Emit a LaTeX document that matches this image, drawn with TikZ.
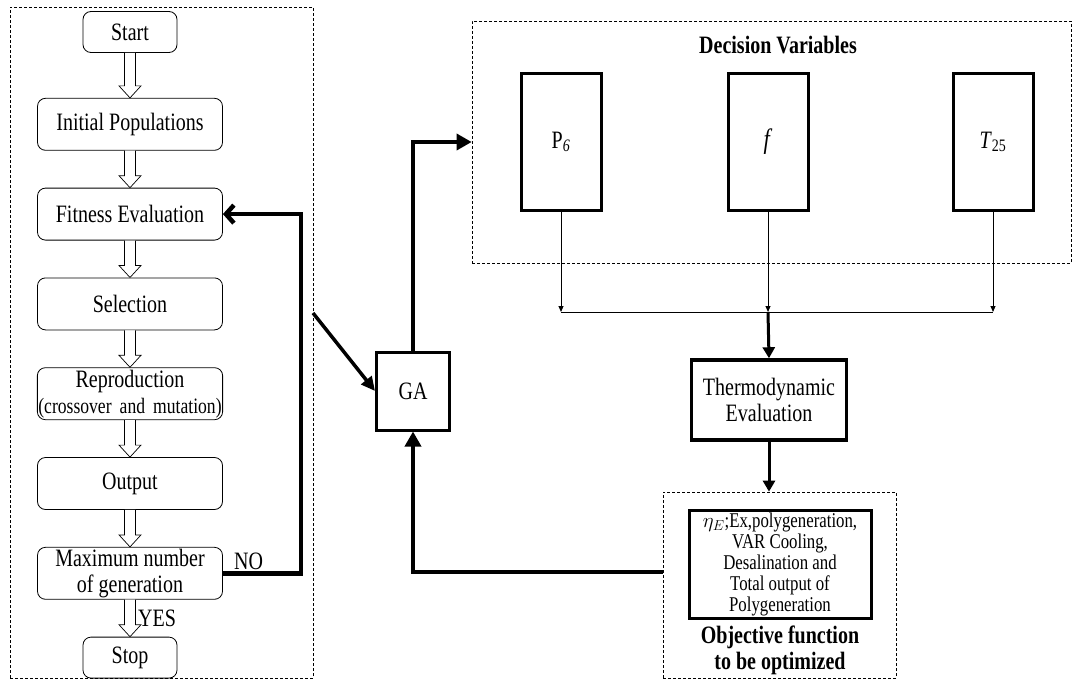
\documentclass[tikz,border=0pt]{standalone}
\usepackage{fontspec}
\setmainfont{Liberation Serif}[FakeStretch=0.8]
\usepackage{tikz}
\usetikzlibrary{arrows.meta, positioning, calc, fit}

\newcommand{\lblfont}{\fontsize{25}{26}\selectfont}
\newcommand{\objfont}{\fontsize{21}{21}\selectfont}

% hollow block arrow between two flow boxes
\newcommand{\hollowarrow}[2]{%
  \draw[line width=0.7pt, fill=white] let \p1=(#1.south), \p2=(#2.north) in
    (\x1-5.5pt,\y1) -- (\x1-5.5pt,\y2+12pt) -- (\x1-11pt,\y2+12pt) -- (\x1,\y2)
    -- (\x1+11pt,\y2+12pt) -- (\x1+5.5pt,\y2+12pt) -- (\x1+5.5pt,\y1);}

\begin{document}
\begin{tikzpicture}[
  x=1pt, y=-1pt,
  node distance=37pt,
  flowbox/.style={rectangle, rounded corners=8pt, draw, line width=0.8pt, minimum width=185pt, minimum height=52pt, align=center, inner sep=1pt, font=\lblfont},
  endbox/.style={flowbox, minimum width=94pt, minimum height=41pt},
  varbox/.style={rectangle, draw, line width=3pt, minimum width=80pt, minimum height=136pt, font=\lblfont},
  block/.style={rectangle, draw, line width=3pt, align=center, font=\lblfont},
  region/.style={rectangle, draw, line width=0.7pt, dash pattern=on 3pt off 2pt},
  thickarrow/.style={line width=3.5pt, -{Triangle[length=15pt,width=16pt]}},
  loop/.style={line width=4.5pt, -{Straight Barb[length=8pt,width=18pt]}},
  thinarrow/.style={line width=1pt, -{Triangle[length=6pt,width=5pt]}}
]
\useasboundingbox (0,0) rectangle (1073,682);

% GA flow chart
\node[region, minimum width=303pt, minimum height=671pt] (flow) at (161.5,342.5) {};
\node[endbox] (start) at (130,32) {Start};
\node[flowbox, below=45pt of start] (init) {Initial Populations};
\node[flowbox, below=of init] (fitness) {Fitness Evaluation};
\node[flowbox, below=of fitness] (selection) {Selection};
\node[flowbox, below=of selection] (repro) {Reproduction\\{\fontsize{22}{22}\selectfont(crossover\, and\, mutation)}};
\node[flowbox, below=of repro] (output) {Output};
\node[flowbox, below=of output] (maxgen) {Maximum number\\of generation};
\node[endbox, below=of maxgen] (stop) {Stop};

\hollowarrow{start}{init}
\hollowarrow{init}{fitness}
\hollowarrow{fitness}{selection}
\hollowarrow{selection}{repro}
\hollowarrow{repro}{output}
\hollowarrow{output}{maxgen}
\hollowarrow{maxgen}{stop}

\node[font=\lblfont, anchor=west, inner sep=1pt] (yes) at ([xshift=7pt]$(maxgen.south)!0.5!(stop.north)$) {YES};
\node[font=\lblfont, anchor=south west, inner sep=1pt] (no) at ([xshift=10pt,yshift=2pt]maxgen.east) {NO};

% GA
\node[block, minimum width=73pt, minimum height=78pt] (ga) at (413,391) {GA};
\coordinate (gain) at (313,313);

% Decision variables
\node[region, minimum width=599pt, minimum height=242pt] (decision) at (771.5,142) {};
\node[font=\lblfont\bfseries] (dvtitle) at (778,45) {Decision Variables};
\node[varbox] (p6) at (561,142) {P\textsubscript{\textit{6}}};
\node[varbox] (freq) at (768,142) {\fontsize{28}{28}\selectfont\textit{f}};
\node[varbox] (t25) at (993,142) {\textit{T}\textsubscript{25}};
\coordinate (bus) at (768,312);

% Thermodynamic evaluation
\node[block, line width=3.5pt, minimum width=155pt, minimum height=80pt] (thermo) at (769,400) {Thermodynamic\\Evaluation};

% Objective function
\node[region, minimum width=233pt, minimum height=186pt] (objective) at (779.5,585) {};
\node[block, minimum width=182pt, minimum height=108pt, font=\objfont, inner sep=2pt] (objfun) at (780,564)
  {$\eta_E$;Ex,polygeneration,\\VAR Cooling,\\Desalination and\\Total output of\\Polygeneration};
\node[font=\lblfont\bfseries, align=center, inner sep=0pt] (objlabel) at (780,650) {Objective function\\to be optimized};

% connectors
\draw[loop] (maxgen.east) -- ++(78,0) |- (fitness.east);
\draw[thickarrow, -{Triangle[length=14pt,width=13pt]}] (gain) -- (ga.west);
\draw[thickarrow] (ga.north) |- (decision.west);
\draw[thinarrow] (p6.south) -- (p6.south |- bus);
\draw[thinarrow] (freq.south) -- (bus);
\draw[thinarrow] (t25.south) -- (t25.south |- bus);
\draw[line width=1pt] (p6.south |- bus) -- (t25.south |- bus);
\draw[line width=3pt, -{Triangle[length=11pt,width=12pt]}] (bus) -- (thermo.north);
\draw[line width=3pt, -{Triangle[length=11pt,width=12pt]}] (thermo.south) -- (thermo.south |- objective.north);
\draw[thickarrow] ([yshift=13pt]objective.west) -| (ga.south);

\end{tikzpicture}
\end{document}
